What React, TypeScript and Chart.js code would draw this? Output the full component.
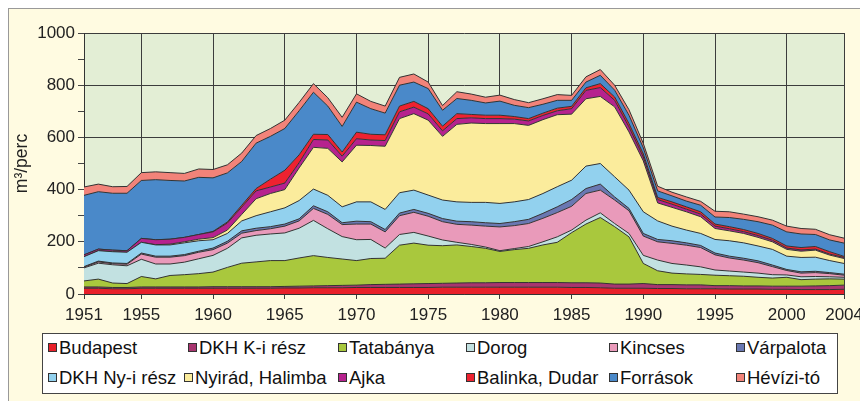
import { useEffect, useRef } from "react";
import { Chart, registerables } from "chart.js";

Chart.register(...registerables);

const years = [
  1951, 1952, 1953, 1954, 1955, 1956, 1957, 1958, 1959, 1960,
  1961, 1962, 1963, 1964, 1965, 1966, 1967, 1968, 1969, 1970,
  1971, 1972, 1973, 1974, 1975, 1976, 1977, 1978, 1979, 1980,
  1981, 1982, 1983, 1984, 1985, 1986, 1987, 1988, 1989, 1990,
  1991, 1992, 1993, 1994, 1995, 1996, 1997, 1998, 1999, 2000,
  2001, 2002, 2003, 2004,
];

const xTickYears = [1951, 1955, 1960, 1965, 1970, 1975, 1980, 1985, 1990, 1995, 2000, 2004];

const budapest = [
  22, 22, 20, 20, 22, 22, 22, 22, 22, 22,
  22, 22, 22, 22, 23, 23, 24, 24, 24, 25,
  25, 25, 25, 25, 25, 26, 26, 26, 26, 26,
  26, 26, 26, 26, 25, 25, 24, 22, 22, 22,
  21, 21, 20, 20, 20, 19, 19, 19, 18, 18,
  17, 17, 17, 18,
];
const dkhK = [
  5, 5, 5, 5, 5, 5, 5, 5, 5, 6,
  6, 6, 6, 6, 6, 7, 7, 8, 9, 9,
  11, 12, 13, 14, 15, 15, 16, 17, 17, 18,
  18, 18, 18, 18, 18, 18, 18, 16, 16, 18,
  15, 15, 15, 15, 12, 13, 12, 12, 12, 12,
  13, 14, 15, 16,
];
const tatabanya = [
  23, 30, 17, 15, 40, 31, 44, 47, 51, 56,
  74, 90, 95, 100, 99, 108, 116, 108, 101, 94,
  100, 100, 149, 156, 147, 144, 146, 139, 132, 119,
  126, 131, 144, 154, 192, 225, 251, 220, 181, 77,
  53, 44, 42, 40, 40, 38, 37, 33, 31, 34,
  25, 26, 26, 23,
];
const dorog = [
  50, 61, 70, 68, 66, 57, 44, 48, 57, 64,
  73, 97, 102, 102, 106, 114, 135, 110, 86, 80,
  73, 39, 41, 41, 35, 22, 10, 8, 5, 3,
  4, 7, 12, 21, 10, 15, 18, 12, 13, 31,
  41, 37, 34, 29, 20, 18, 16, 16, 13, 9,
  11, 10, 8, 7,
];
const kincses = [
  3, 5, 4, 6, 20, 26, 26, 25, 25, 22,
  20, 18, 18, 20, 26, 28, 46, 55, 46, 60,
  59, 62, 72, 77, 76, 70, 69, 74, 80, 91,
  88, 88, 90, 93, 91, 102, 87, 90, 87, 74,
  70, 77, 76, 74, 58, 50, 46, 40, 31, 17,
  14, 15, 12, 8,
];
const varpalota = [
  2, 3, 3, 3, 4, 4, 4, 4, 4, 6,
  7, 9, 9, 8, 8, 8, 10, 10, 7, 11,
  9, 9, 10, 11, 11, 12, 12, 13, 13, 13,
  15, 16, 19, 22, 26, 19, 23, 12, 9, 10,
  9, 10, 9, 8, 7, 7, 7, 7, 6, 4,
  5, 5, 4, 4,
];
const dkhNy = [
  38, 40, 43, 43, 41, 43, 43, 45, 40, 32,
  30, 38, 48, 57, 62, 70, 64, 63, 61, 74,
  76, 77, 78, 74, 70, 71, 74, 74, 78, 77,
  76, 76, 76, 77, 74, 86, 79, 77, 70, 83,
  71, 56, 49, 46, 52, 59, 59, 57, 60, 51,
  55, 54, 46, 41,
];
const nyirad = [
  0, 0, 0, 0, 0, 1, 3, 4, 6, 8,
  13, 25, 65, 70, 70, 125, 160, 180, 172, 217,
  216, 242, 284, 293, 287, 244, 297, 304, 302, 306,
  300, 284, 283, 276, 253, 258, 257, 268, 223, 195,
  69, 72, 70, 64, 42, 38, 36, 33, 29, 26,
  24, 27, 21, 19,
];
const ajka = [
  7, 6, 6, 6, 15, 19, 19, 17, 18, 22,
  27, 28, 30, 25, 25, 20, 30, 32, 22, 25,
  21, 22, 26, 25, 24, 21, 22, 20, 19, 19,
  17, 17, 16, 15, 21, 32, 34, 25, 19, 15,
  13, 12, 10, 10, 9, 8, 7, 7, 6, 5,
  5, 4, 4, 4,
];
const balinka = [
  0, 0, 0, 0, 0, 0, 0, 0, 0, 2,
  4, 7, 9, 30, 49, 30, 20, 21, 16, 25,
  22, 22, 22, 22, 20, 18, 19, 13, 13, 13,
  10, 9, 9, 10, 9, 10, 15, 13, 13, 12,
  8, 9, 9, 9, 8, 8, 8, 8, 7, 8,
  9, 10, 9, 4,
];
const forrasok = [
  228, 220, 218, 220, 222, 230, 225, 216, 219, 205,
  188, 168, 174, 164, 160, 169, 161, 109, 98, 115,
  98, 83, 80, 74, 77, 61, 58, 54, 47, 54,
  43, 42, 34, 30, 23, 22, 32, 26, 32, 23,
  25, 23, 22, 25, 27, 35, 39, 45, 51, 54,
  52, 46, 45, 51,
];
const heviz = [
  32, 29, 25, 26, 30, 30, 30, 29, 32, 32,
  31, 32, 29, 30, 32, 32, 33, 32, 35, 32,
  28, 27, 30, 31, 25, 18, 26, 24, 22, 23,
  22, 19, 21, 22, 19, 20, 22, 19, 21, 17,
  18, 14, 16, 15, 22, 22, 20, 19, 19, 22,
  21, 20, 20, 19,
];

const seriesNames = [
  "Budapest", "DKH K-i rész", "Tatabánya", "Dorog", "Kincses", "Várpalota",
  "DKH Ny-i rész", "Nyirád, Halimba", "Ajka", "Balinka, Dudar", "Források", "Hévízi-tó",
];
const seriesValues = [
  budapest, dkhK, tatabanya, dorog, kincses, varpalota,
  dkhNy, nyirad, ajka, balinka, forrasok, heviz,
];
const seriesColors = [
  "#E8202A", "#A8356F", "#A9C83D", "#C2E1E1", "#E99ABA", "#6A78B2",
  "#92D1EE", "#FBEC9C", "#B6228E", "#EE2230", "#4A89C9", "#F28379",
];

// legend layout: square left x and row index
const legendCols = [
  [39, 0], [179, 0], [329, 0], [457, 0], [600, 0], [727, 0],
  [39, 1], [175, 1], [329, 1], [457, 1], [600, 1], [727, 1],
];

const plotBg = {
  id: "plotBg",
  beforeDraw(chart: any) {
    const { ctx, chartArea: a } = chart;
    ctx.save();
    ctx.fillStyle = "#E3EED5";
    ctx.fillRect(a.left, a.top, a.right - a.left, a.bottom - a.top);
    ctx.restore();
  },
};

export default function App() {
  const ref = useRef<HTMLCanvasElement | null>(null);

  useEffect(() => {
    if (!ref.current) return;
    const font = "'Liberation Sans', Arial, sans-serif";
    const chart = new Chart(ref.current, {
      type: "line",
      data: {
        datasets: seriesValues.map((vals, i) => ({
          label: seriesNames[i],
          data: years.map((yr, j) => ({ x: yr, y: vals[j] })),
          backgroundColor: seriesColors[i],
          borderColor: "#333333",
          borderWidth: 1,
          pointRadius: 0,
          tension: 0,
          fill: i === 0 ? "origin" : "-1",
        })),
      },
      options: {
        animation: false,
        responsive: false,
        devicePixelRatio: 1,
        layout: { padding: { top: 24, right: 19, left: 0, bottom: 0 } },
        plugins: {
          legend: { display: false },
          tooltip: { enabled: false },
        },
        scales: {
          x: {
            type: "linear",
            min: 1951,
            max: 2004,
            z: 1,
            afterBuildTicks: (axis: any) => {
              axis.ticks = xTickYears.map((v) => ({ value: v }));
            },
            afterFit: (s: any) => {
              s.height = 35;
            },
            ticks: {
              autoSkip: false,
              maxRotation: 0,
              padding: 6,
              color: "#222",
              font: { family: font, size: 17 },
              callback: (v: any) => String(v),
            },
            grid: { color: "#3c3c3c", tickLength: 5, lineWidth: 1 },
            border: { display: true, color: "#333" },
          },
          y: {
            stacked: true,
            min: 0,
            max: 1000,
            z: 1,
            afterFit: (s: any) => {
              s.width = 75;
            },
            ticks: {
              stepSize: 100,
              padding: 3,
              color: "#222",
              font: { family: font, size: 17 },
              callback: (v: any) => (Number(v) % 200 === 0 ? String(v) : ""),
            },
            grid: {
              color: (c: any) => (c.tick && c.tick.value % 200 === 0 ? "#3c3c3c" : "rgba(0,0,0,0)"),
              tickColor: "#444",
              tickLength: 6,
              lineWidth: 1,
            },
            border: { display: true, color: "#333" },
            title: {
              display: true,
              text: "m³/perc",
              color: "#222",
              font: { family: font, size: 17.5 },
              padding: { top: 3, bottom: 0 },
            },
          },
        },
      },
      plugins: [plotBg],
    } as any);
    return () => chart.destroy();
  }, []);

  const font = "'Liberation Sans', Arial, sans-serif";

  return (
    <div
      style={{
        position: "relative",
        width: 860,
        height: 393,
        background: "#FFFBE1",
        borderTop: "1px solid #999",
        borderLeft: "1px solid #999",
        boxSizing: "border-box",
        overflow: "hidden",
        fontFamily: font,
      }}
    >
      <canvas
        ref={ref}
        width={860}
        height={320}
        style={{ position: "absolute", left: 0, top: 0, width: 860, height: 320 }}
      />
      <div
        style={{
          position: "absolute",
          left: 33,
          top: 324,
          width: 796,
          height: 61,
          background: "#FFFFFF",
          border: "1px solid #444",
          boxSizing: "border-box",
        }}
      />
      {seriesNames.map((name, i) => {
        const [sx, row] = legendCols[i];
        const cy = row === 0 ? 339 : 369;
        return (
          <div key={name}>
            <div
              style={{
                position: "absolute",
                left: sx,
                top: cy - 5,
                width: 9,
                height: 9,
                boxSizing: "border-box",
                border: "1px solid #333",
                background: seriesColors[i],
              }}
            />
            <div
              style={{
                position: "absolute",
                left: sx + 11,
                top: cy - 12,
                height: 24,
                lineHeight: "24px",
                fontSize: 18.5,
                color: "#111",
                whiteSpace: "nowrap",
              }}
            >
              {name}
            </div>
          </div>
        );
      })}
    </div>
  );
}
